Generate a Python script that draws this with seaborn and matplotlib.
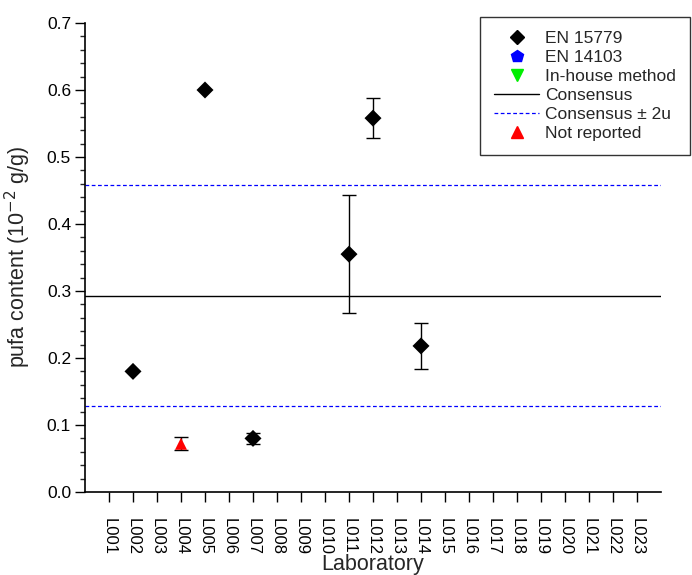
import matplotlib
matplotlib.use("Agg")
import matplotlib.pyplot as plt
import seaborn as sns
import pandas as pd
from matplotlib.lines import Line2D
from matplotlib.ticker import MultipleLocator

labs = [f"L{i:03d}" for i in range(1, 24)]
pt_labs = ["L002", "L004", "L005", "L007", "L011", "L012", "L014"]
pt_vals = [0.180, 0.072, 0.600, 0.080, 0.355, 0.558, 0.218]
pt_err = [0.0, 0.010, 0.0, 0.008, 0.088, 0.030, 0.034]
pt_method = ["EN 15779", "Not reported", "EN 15779", "EN 15779", "EN 15779", "EN 15779", "EN 15779"]
consensus = 0.293
upper = 0.458
lower = 0.129

sns.set_style("ticks")
plt.rcParams['font.family'] = ['Liberation Sans', 'DejaVu Sans']

fig = plt.figure(figsize=(6.92, 5.75), dpi=100)
ax = fig.add_axes([85/692, 1-492/575, (661-85)/692, (492-23)/575])

df = pd.DataFrame({"lab": pt_labs, "val": pt_vals, "err": pt_err, "method": pt_method})
df["x"] = [labs.index(l) + 1 for l in df["lab"]]

ax.axhline(consensus, color="black", lw=1, zorder=1)
ax.axhline(upper, color="blue", lw=0.9, ls=(0, (3, 2)), zorder=1)
ax.axhline(lower, color="blue", lw=0.9, ls=(0, (3, 2)), zorder=1)

e = df[df["err"] > 0]
ax.errorbar(e["x"], e["val"], yerr=e["err"], fmt="none", ecolor="black", elinewidth=1, capsize=5, capthick=1, zorder=2)

sns.scatterplot(data=df, x="x", y="val", hue="method", style="method",
                palette={"EN 15779": "black", "Not reported": "red"},
                markers={"EN 15779": "D", "Not reported": "^"},
                s=75, edgecolor="none", legend=False, ax=ax, zorder=3)

ax.set_xlim(0, 24)
ax.set_ylim(0, 0.7)
ax.set_xticks(range(1, 24))
ax.set_xticklabels(labs, rotation=-90, fontsize=12)
ax.yaxis.set_major_locator(MultipleLocator(0.1))
ax.yaxis.set_minor_locator(MultipleLocator(0.02))
ax.set_yticks([i/10 for i in range(8)])
ax.set_yticklabels([f"{i/10:.1f}" for i in range(8)], fontsize=12.5)
ax.tick_params(axis="both", which="major", direction="out", length=7, width=1, colors="black")
ax.tick_params(axis="y", which="minor", direction="out", length=3.5, width=1)
ax.tick_params(axis="x", pad=12)
ax.tick_params(axis="y", pad=3)
for s in ["top", "right"]:
    ax.spines[s].set_visible(False)
for s in ["left", "bottom"]:
    ax.spines[s].set_linewidth(1.2)
    ax.spines[s].set_color("black")

ax.set_xlabel("Laboratory", fontsize=15.5)
ax.xaxis.set_label_coords(0.5, -0.133)
ax.set_ylabel(r"pufa content (10$^{-2}$ g/g)", fontsize=15.5)
ax.yaxis.set_label_coords(-0.09, 0.5)

handles = [
    Line2D([], [], marker="D", color="black", ls="none", markersize=7),
    Line2D([], [], marker="p", color="blue", ls="none", markersize=9),
    Line2D([], [], marker="v", color="#00ee00", ls="none", markersize=9),
    Line2D([], [], color="black", lw=1),
    Line2D([], [], color="blue", lw=0.9, ls=(0, (3, 2))),
    Line2D([], [], marker="^", color="red", ls="none", markersize=9),
]
names = ["EN 15779", "EN 14103", "In-house method", "Consensus", "Consensus ± 2u", "Not reported"]
leg = fig.legend(handles, names, loc="upper right", bbox_to_anchor=(690/692, 1-17/575),
                 frameon=True, fancybox=False, edgecolor="black", fontsize=12.5,
                 handlelength=2.6, labelspacing=0.22, borderpad=0.8, handletextpad=0.35,
                 borderaxespad=0)
leg.get_frame().set_linewidth(1)

fig.savefig("out.png", dpi=100)
